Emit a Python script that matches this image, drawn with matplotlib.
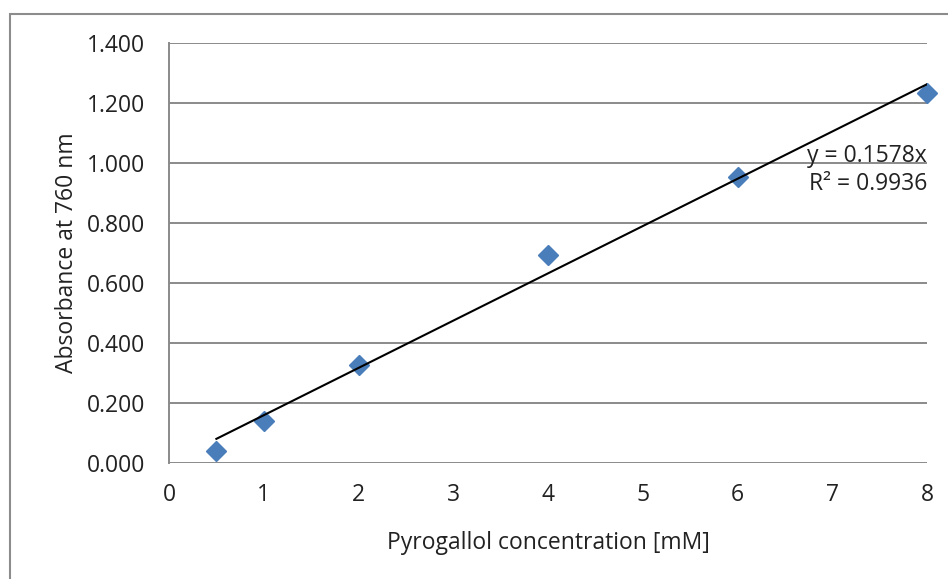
import matplotlib
matplotlib.use('Agg')
import matplotlib.pyplot as plt
from matplotlib.patches import Rectangle
from matplotlib.ticker import FormatStrFormatter

conc = [0.5, 1, 2, 4, 6, 8]            # mM
absorb = [0.037, 0.137, 0.324, 0.692, 0.952, 1.233]
slope = 0.1578
r2 = 0.9936
trend_x = [0.5, 8]

plt.rcParams['font.family'] = ['Open Sans', 'DejaVu Sans']
fs = 16.5

fig = plt.figure(figsize=(9.48, 5.79), dpi=100)
ax = fig.add_axes([169/948, 1 - 462.5/579, (927-169)/948, (462.5-43)/579])

# outer chart frame (only left/top visible in the crop)
fig.patches.append(Rectangle((10/948, -0.1), 1.2, (579-14)/579 + 0.1,
                             transform=fig.transFigure, fill=False,
                             edgecolor='#8c8c8c', linewidth=1.5))

gray = '#8a8a8a'
ax.set_xlim(0, 8)
ax.set_ylim(0, 1.4)
ax.set_yticks([0, 0.2, 0.4, 0.6, 0.8, 1.0, 1.2, 1.4])
ax.set_xticks(range(9))
ax.yaxis.set_major_formatter(FormatStrFormatter('%.3f'))
ax.grid(axis='y', color=gray, linewidth=1.4)
ax.set_axisbelow(True)
for s in ['right', 'top', 'bottom']:
    ax.spines[s].set_visible(False)
ax.spines['left'].set_color(gray)
ax.spines['left'].set_linewidth(1.4)
ax.tick_params(length=0, labelsize=fs, colors='#222222')
ax.tick_params(axis='y', pad=17)
ax.tick_params(axis='x', pad=15)

ax.plot(conc, absorb, 'D', color='#4a7ebb', markersize=10.5, zorder=3, clip_on=False)
ax.plot(trend_x, [slope * x for x in trend_x], color='black', linewidth=1.5, zorder=4)

ax.text(8, 0.976, f'y = {slope}x\nR\u00b2 = {r2}', ha='right', va='center',
        fontsize=fs, color='#222222', linespacing=1.2)

ax.set_xlabel('Pyrogallol concentration [mM]', fontsize=fs, color='#222222', labelpad=17)
ax.set_ylabel('Absorbance at 760 nm', fontsize=fs, color='#222222', labelpad=6)

fig.savefig('out.png', dpi=100)
